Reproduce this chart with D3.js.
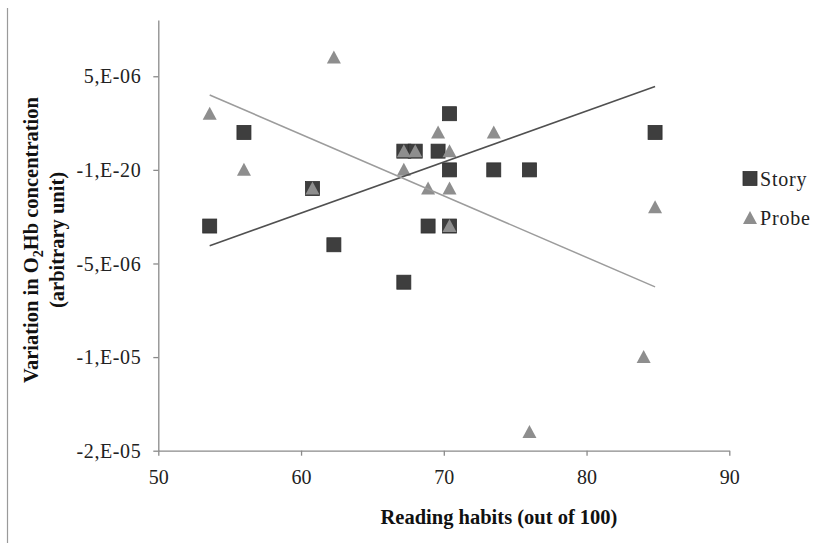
<!DOCTYPE html>
<html>
<head>
<meta charset="utf-8">
<script src="https://cdn.jsdelivr.net/npm/d3@7"></script>
<style>
  html, body { margin: 0; padding: 0; background: #fff; }
  svg { display: block; }
</style>
</head>
<body>
<script>
// ---- data ----
const storyX = [53.6, 56.0, 60.8, 62.3, 67.2, 67.2, 68.0, 68.9, 69.6, 70.4, 70.4, 70.4, 73.5, 76.0, 84.8];
const storyY = [-3e-6, 2e-6, -1e-6, -4e-6, -6e-6, 1e-6, 1e-6, -3e-6, 1e-6, 3e-6, 0, -3e-6, 0, 0, 2e-6];
const probeX = [53.6, 56.0, 60.8, 62.3, 67.2, 67.2, 68.0, 68.9, 69.6, 70.4, 70.4, 70.4, 73.5, 76.0, 84.0, 84.8];
const probeY = [3e-6, 0, -1e-6, 6e-6, 0, 1e-6, 1e-6, -1e-6, 2e-6, 1e-6, -1e-6, -3e-6, 2e-6, -14e-6, -10e-6, -2e-6];
// trend lines (endpoints)
const storyTrendX = [53.6, 84.8];
const storyTrendY = [-4.05e-6, 4.45e-6];
const probeTrendX = [53.6, 84.8];
const probeTrendY = [4.0e-6, -6.25e-6];
// ticks
const xTicks = [50, 60, 70, 80, 90];
const yTicks = [-15e-6, -10e-6, -5e-6, 0, 5e-6];
const yTickLabels = ["-2,E-05", "-1,E-05", "-5,E-06", "-1,E-20", "5,E-06"];
const seriesNames = ["Story", "Probe"];

const W = 824, H = 543;
const svg = d3.select("body").append("svg").attr("width", W).attr("height", H);

const x = d3.scaleLinear().domain([50, 90]).range([158.3, 729.3]);
const y = d3.scaleLinear().domain([-15e-6, 8e-6]).range([450.7, 20.1]);

const axisColor = "#8a8a8a";
const tickFont = "'Liberation Serif', 'Times New Roman', serif";

// left border line of the cropped figure
svg.append("line").attr("x1", 7.5).attr("x2", 7.5).attr("y1", 8).attr("y2", H)
  .attr("stroke", "#9a9a9a").attr("stroke-width", 1.2);

// x axis
const gx = svg.append("g").attr("transform", `translate(0,${y.range()[0]})`)
  .call(d3.axisBottom(x).tickValues(xTicks).tickSize(5).tickSizeOuter(0).tickFormat(d3.format("d")));
// y axis
const gy = svg.append("g").attr("transform", `translate(${x.range()[0]},0)`)
  .call(d3.axisLeft(y).tickValues(yTicks).tickSize(5).tickSizeOuter(0)
    .tickFormat((d, i) => yTickLabels[i]));

[gx, gy].forEach(g => {
  g.select(".domain").attr("stroke", axisColor).attr("stroke-width", 1.3);
  g.selectAll(".tick line").attr("stroke", axisColor).attr("stroke-width", 1.3);
  g.selectAll(".tick text").attr("fill", "#222").style("font-family", tickFont).style("font-size", "20px");
});
gx.selectAll(".tick text").attr("dy", null).attr("y", 33);
gy.selectAll(".tick text").attr("x", -17).attr("dy", "0.33em").style("letter-spacing", "0.6px");

// markers
const sq = 14;
svg.append("g").selectAll("rect").data(storyX.map((d, i) => [d, storyY[i]])).join("rect")
  .attr("x", d => x(d[0]) - sq / 2).attr("y", d => y(d[1]) - sq / 2)
  .attr("width", sq).attr("height", sq)
  .attr("fill", "#3e3e3e").attr("stroke", "#2e2e2e").attr("stroke-width", 0.8);

const tri = "M0,-7L7,6L-7,6Z";
svg.append("g").selectAll("path").data(probeX.map((d, i) => [d, probeY[i]])).join("path")
  .attr("d", tri)
  .attr("transform", d => `translate(${x(d[0])},${y(d[1])})`)
  .attr("fill", "#8e8e8e");

// trend lines
const line = d3.line().x(d => x(d[0])).y(d => y(d[1]));
svg.append("path").datum(storyTrendX.map((d, i) => [d, storyTrendY[i]]))
  .attr("d", line).attr("fill", "none").attr("stroke", "#505050").attr("stroke-width", 1.5);
svg.append("path").datum(probeTrendX.map((d, i) => [d, probeTrendY[i]]))
  .attr("d", line).attr("fill", "none").attr("stroke", "#9c9c9c").attr("stroke-width", 1.5);

// legend
const legend = svg.append("g");
legend.append("rect").attr("x", 743).attr("y", 171.5).attr("width", sq).attr("height", sq)
  .attr("fill", "#3e3e3e").attr("stroke", "#2e2e2e").attr("stroke-width", 0.8);
legend.append("text").attr("x", 760).attr("y", 186).text(seriesNames[0])
  .style("font-family", tickFont).style("font-size", "20px").style("letter-spacing", "0.8px").attr("fill", "#222");
legend.append("path").attr("d", tri).attr("transform", "translate(750,218)").attr("fill", "#8e8e8e");
legend.append("text").attr("x", 760).attr("y", 225).text(seriesNames[1])
  .style("font-family", tickFont).style("font-size", "20px").style("letter-spacing", "0.8px").attr("fill", "#222");

// axis titles
const titleFont = "'Liberation Serif', 'Times New Roman', serif";
svg.append("text").attr("x", 499).attr("y", 524).attr("text-anchor", "middle")
  .style("font-family", titleFont).style("font-size", "20.5px").style("font-weight", "bold")
  .attr("fill", "#111").text("Reading habits (out of 100)");

const yt = svg.append("text").attr("transform", "translate(38,240) rotate(-90)")
  .attr("text-anchor", "middle")
  .style("font-family", titleFont).style("font-size", "20.5px").style("font-weight", "bold")
  .attr("fill", "#111");
yt.append("tspan").text("Variation in O");
yt.append("tspan").attr("dy", 5).style("font-size", "14px").text("2");
yt.append("tspan").attr("dy", -5).text("Hb concentration");
svg.append("text").attr("transform", "translate(64,240) rotate(-90)")
  .attr("text-anchor", "middle")
  .style("font-family", titleFont).style("font-size", "20.5px").style("font-weight", "bold")
  .attr("fill", "#111").text("(arbitrary unit)");
</script>
</body>
</html>
